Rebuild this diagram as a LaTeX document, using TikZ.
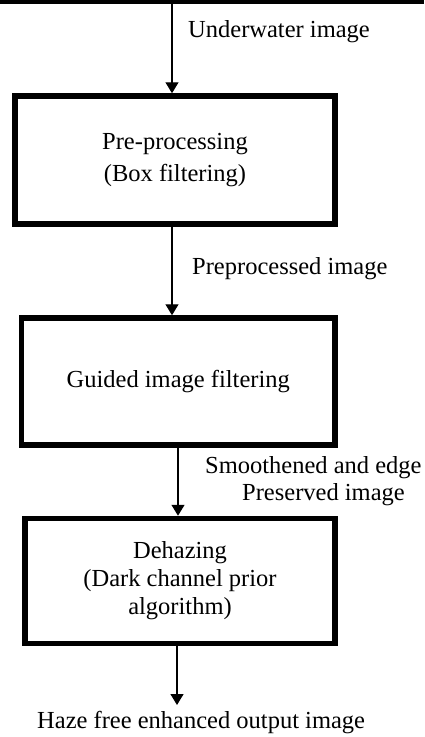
\documentclass[tikz,border=0pt]{standalone}
\usepackage{fontspec}
\setmainfont{Liberation Serif}
\usetikzlibrary{arrows.meta,calc}
\begin{document}
\begin{tikzpicture}[x=1pt,y=-1pt,
  stepbox/.style={draw,line width=5.5pt,rectangle,inner sep=0pt,align=center,font=\fontsize{24.5}{28}\selectfont},
  flow/.style={line width=1.3pt,-{Triangle[width=13pt,length=11pt]}},
  lbl/.style={inner sep=0pt,font=\fontsize{24.5}{27}\selectfont}]
\useasboundingbox (0,0) rectangle (424,737);
\fill (0,0) rectangle (424,4);
\node[stepbox,minimum width=320pt,minimum height=128pt,font=\fontsize{24.5}{31.7}\selectfont] (b1) at (175,160) {Pre-processing\\(Box filtering)};
\node[stepbox,minimum width=313.5pt,minimum height=127pt] (b2) at (178.25,381.5) {Guided image filtering};
\node[stepbox,minimum width=310pt,minimum height=125pt] (b3) at (180,581) {Dehazing\\(Dark channel prior\\algorithm)};
\coordinate (src) at (172,4);
\coordinate (a2) at (172,0);
\coordinate (a3) at (178,0);
\coordinate (out) at (177,705);
\draw[flow] (src) -- (src |- b1.north);
\draw[flow] (b1.south -| a2) -- (b2.north -| a2);
\draw[flow] (b2.south -| a3) -- (b3.north -| a3);
\draw[flow] (b3.south -| out) -- (out);
\node[lbl,anchor=base west] (l1) at (188,37) {Underwater image};
\node[lbl,anchor=base west] (l2) at (192,274) {Preprocessed image};
\node[lbl,anchor=north west,align=left] (l3) at (205,456) {Smoothened and edge\\\hspace*{37pt}Preserved image};
\node[lbl,anchor=base west] (l4) at (37,728) {Haze free enhanced output image};
\end{tikzpicture}
\end{document}
